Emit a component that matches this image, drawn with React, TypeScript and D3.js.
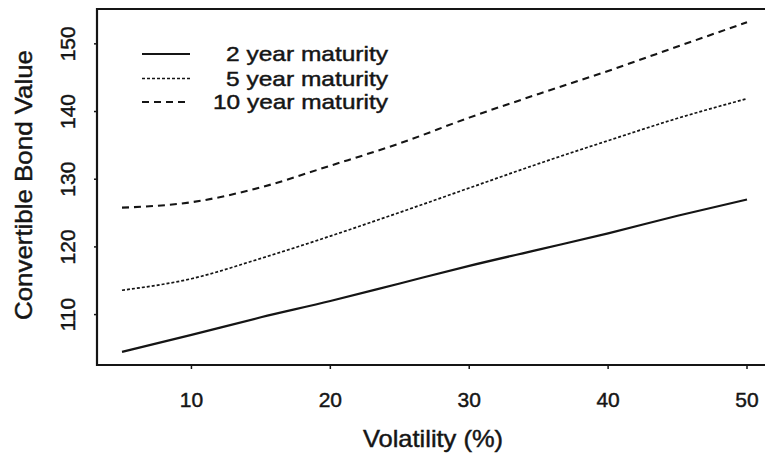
import React from "react";
import * as d3 from "d3";

const volatility = [5, 10, 15, 20, 25, 30, 35, 40, 45, 50];
const twoYear = [104.5, 107.0, 109.6, 112.0, 114.6, 117.2, 119.6, 122.0, 124.6, 127.0];
const fiveYear = [113.6, 115.3, 118.3, 121.6, 125.1, 128.7, 132.3, 135.7, 139.0, 141.9];
const tenYear = [125.8, 126.6, 128.8, 132.0, 135.3, 139.1, 142.6, 146.0, 149.6, 153.2];
const seriesNames = ["2 year maturity", "5 year maturity", "10 year maturity"];
const xTicks = [10, 20, 30, 40, 50];
const yTicks = [110, 120, 130, 140, 150];

const W = 765;
const H = 455;
const left = 97;
const top = 9;
const bottom = 365;
const FONT = "'Liberation Sans', Arial, Helvetica, sans-serif";
const INK = "#151515";
const TEXT_STROKE = 0.45;

export default function App() {
  const allY = [...twoYear, ...fiveYear, ...tenYear];
  const xMin = d3.min(volatility)!;
  const xMax = d3.max(volatility)!;
  const yMin = d3.min(allY)!;
  const yMax = d3.max(allY)!;
  const xPad = (xMax - xMin) * 0.04;
  const yPad = (yMax - yMin) * 0.04;
  // R-style 4% extension; right side extends beyond the visible window
  const xScale = d3.scaleLinear().domain([xMin - xPad, xMax + xPad]).range([left, 772]);
  const yScale = d3.scaleLinear().domain([yMin - yPad, yMax + yPad]).range([bottom, top]);

  const line = d3
    .line<[number, number]>()
    .x((d) => xScale(d[0]))
    .y((d) => yScale(d[1]))
    .curve(d3.curveMonotoneX);

  const series = [
    { name: seriesNames[0], values: twoYear, dash: "none", width: 2.2 },
    { name: seriesNames[1], values: fiveYear, dash: "3,2", width: 1.7 },
    { name: seriesNames[2], values: tenYear, dash: "7,5", width: 2.1 },
  ];

  const right = xScale.range()[1];
  const legendYs = [54, 78.5, 102];
  const legendWidths = [162, 162, 175];

  const textProps = {
    fontFamily: FONT,
    fill: INK,
    stroke: INK,
    strokeWidth: TEXT_STROKE,
  };

  return (
    <svg
      width={W}
      height={H}
      style={{ position: "fixed", left: 0, top: 0, background: "#fff" }}
    >
      <rect x={0} y={0} width={W} height={H} fill="#fff" />
      {/* box */}
      <path
        d={`M${right},${top} L${left},${top} L${left},${bottom} L${right},${bottom}`}
        fill="none"
        stroke={INK}
        strokeWidth={2.2}
      />
      {/* x ticks */}
      {xTicks.map((t) => (
        <g key={"x" + t}>
          <line x1={xScale(t)} x2={xScale(t)} y1={bottom} y2={bottom + 4} stroke={INK} strokeWidth={1.5} />
          <text x={xScale(t)} y={407} textAnchor="middle" fontSize={21} {...textProps}>
            {t}
          </text>
        </g>
      ))}
      {/* y ticks */}
      {yTicks.map((t) => (
        <g key={"y" + t}>
          <line x1={left - 3} x2={left} y1={yScale(t)} y2={yScale(t)} stroke={INK} strokeWidth={1.5} />
          <text
            transform={`translate(75,${yScale(t)}) rotate(-90)`}
            textAnchor="middle"
            fontSize={21}
            {...textProps}
          >
            {t}
          </text>
        </g>
      ))}
      {/* axis titles */}
      <text
        x={433}
        y={447}
        textAnchor="middle"
        fontSize={24}
        textLength={140}
        lengthAdjust="spacingAndGlyphs"
        {...textProps}
      >
        Volatility (%)
      </text>
      <text
        transform={`translate(32,185) rotate(-90)`}
        textAnchor="middle"
        fontSize={24}
        textLength={270}
        lengthAdjust="spacingAndGlyphs"
        {...textProps}
      >
        Convertible Bond Value
      </text>
      {/* lines */}
      {series.map((s) => (
        <path
          key={s.name}
          d={line(volatility.map((v, i) => [v, s.values[i]] as [number, number])) || ""}
          fill="none"
          stroke={INK}
          strokeWidth={s.width}
          strokeDasharray={s.dash}
        />
      ))}
      {/* legend */}
      {series.map((s, i) => (
        <g key={"lg" + s.name}>
          <line
            x1={142}
            x2={190}
            y1={legendYs[i]}
            y2={legendYs[i]}
            stroke={INK}
            strokeWidth={s.width}
            strokeDasharray={s.dash}
          />
          <text
            x={388}
            y={legendYs[i] + 7}
            textAnchor="end"
            fontSize={21}
            textLength={legendWidths[i]}
            lengthAdjust="spacingAndGlyphs"
            {...textProps}
          >
            {s.name}
          </text>
        </g>
      ))}
    </svg>
  );
}
